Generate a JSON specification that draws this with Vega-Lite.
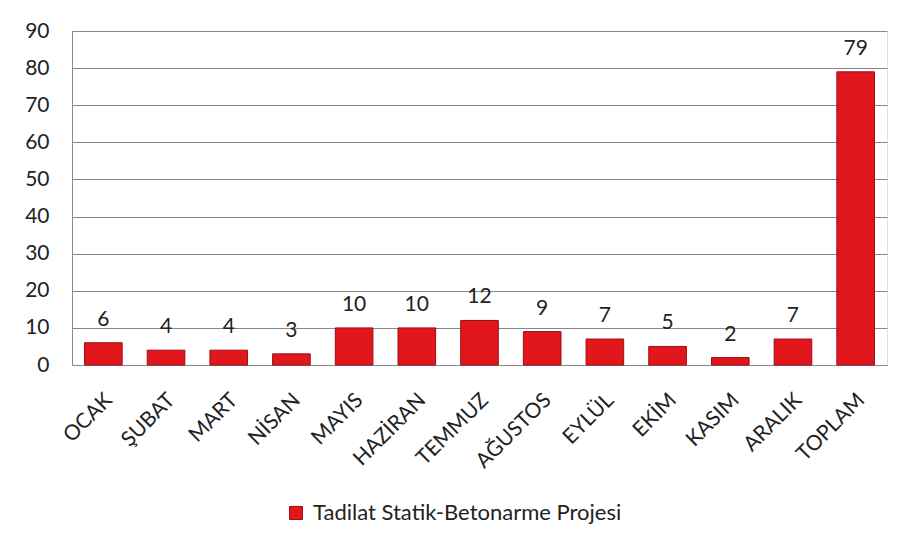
{
  "$schema": "https://vega.github.io/schema/vega-lite/v6.json",
  "width": 815,
  "height": 334,
  "autosize": {"type": "none"},
  "padding": {"left": 72, "top": 31, "right": 17, "bottom": 185},
  "background": "white",
  "data": {"values": [
    {"ay": "OCAK", "sayi": 6},
    {"ay": "ŞUBAT", "sayi": 4},
    {"ay": "MART", "sayi": 4},
    {"ay": "NİSAN", "sayi": 3},
    {"ay": "MAYIS", "sayi": 10},
    {"ay": "HAZİRAN", "sayi": 10},
    {"ay": "TEMMUZ", "sayi": 12},
    {"ay": "AĞUSTOS", "sayi": 9},
    {"ay": "EYLÜL", "sayi": 7},
    {"ay": "EKİM", "sayi": 5},
    {"ay": "KASIM", "sayi": 2},
    {"ay": "ARALIK", "sayi": 7},
    {"ay": "TOPLAM", "sayi": 79}
  ]},
  "encoding": {
    "x": {
      "field": "ay", "type": "nominal", "sort": null,
      "scale": {"paddingInner": 0.4, "paddingOuter": 0.2},
      "axis": {"title": null, "labelAngle": -45, "labelFontSize": 21, "labelFont": "Lato", "labelColor": "#222", "ticks": false, "domainColor": "#888", "labelPadding": 24, "labelOffset": -2}
    },
    "y": {
      "field": "sayi", "type": "quantitative",
      "scale": {"domain": [0, 90]},
      "axis": {"title": null, "values": [0,10,20,30,40,50,60,70,80,90], "labelFontSize": 21, "labelFont": "Lato", "labelColor": "#222", "ticks": false, "labelPadding": 23, "gridColor": "#888", "domainColor": "#888"}
    }
  },
  "layer": [
    {
      "mark": {"type": "bar", "stroke": "#9c0d12", "strokeWidth": 1},
      "encoding": {
        "color": {"datum": "Tadilat Statik-Betonarme Projesi", "type": "nominal",
          "scale": {"range": ["#e2161d"]},
          "legend": {"title": null, "orient": "none", "legendX": 213, "legendY": 471, "symbolType": "square", "symbolSize": 169, "symbolStrokeColor": "#9c0d12", "symbolStrokeWidth": 1, "labelFontSize": 22, "labelFont": "Lato", "labelColor": "#222", "labelLimit": 600, "labelOffset": 6}
        }
      }
    },
    {
      "mark": {"type": "text", "baseline": "bottom", "dy": -13, "fontSize": 21, "font": "Lato", "color": "#222"},
      "encoding": {"text": {"field": "sayi", "type": "quantitative"}}
    }
  ]
}
